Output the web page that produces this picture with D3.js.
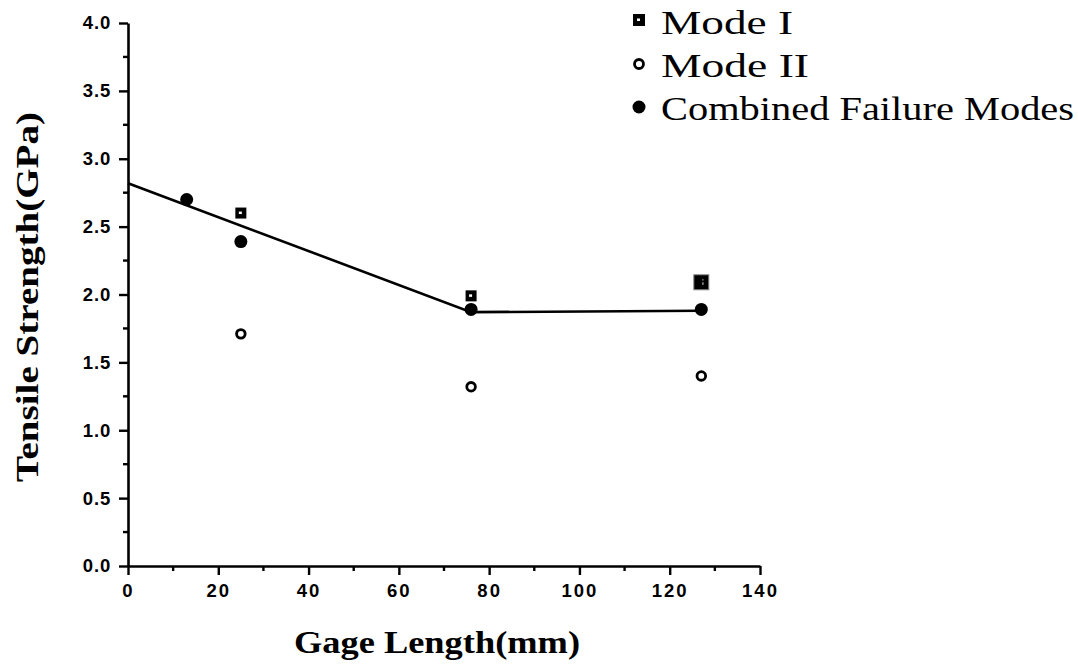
<!DOCTYPE html>
<html>
<head>
<meta charset="utf-8">
<script src="https://cdn.jsdelivr.net/npm/d3@7"></script>
<style>
  html, body { margin: 0; padding: 0; background: #fff; }
  svg { display: block; }
</style>
</head>
<body>
<svg id="chart" width="1078" height="666"></svg>
<script>
// ---- data ----
const xTicks = [0, 20, 40, 60, 80, 100, 120, 140];
const yTicks = [0.0, 0.5, 1.0, 1.5, 2.0, 2.5, 3.0, 3.5, 4.0];
const modeI_x = [25, 76, 127];
const modeI_y = [2.60, 1.99, 2.09];
const modeII_x = [25, 76, 127];
const modeII_y = [1.71, 1.32, 1.40];
const combined_x = [13, 25, 76, 127];
const combined_y = [2.70, 2.39, 1.89, 1.89];
const fit_x = [0, 76, 127];
const fit_y = [2.82, 1.87, 1.88];
const legendLabels = ["Mode I", "Mode II", "Combined Failure Modes"];

const svg = d3.select("#chart");
const x = d3.scaleLinear().domain([0, 140]).range([128, 760]);
const y = d3.scaleLinear().domain([0, 4]).range([566, 23]);

const tickFont = "'Liberation Sans', Arial, sans-serif";
const serif = "'Liberation Serif', 'DejaVu Serif', serif";

// x axis
const xAxis = d3.axisBottom(x).tickValues(xTicks).tickSize(9).tickSizeOuter(0).tickFormat(d3.format("d"));
const gx = svg.append("g").attr("transform", `translate(0,${y(0)})`).call(xAxis);
gx.select(".domain").attr("stroke-width", 2.6);
gx.selectAll(".tick line").attr("stroke-width", 2.4);
gx.selectAll(".tick text").attr("font-family", tickFont).attr("font-weight", "bold")
  .attr("font-size", 18.5).attr("letter-spacing", "2px").attr("dy", "1.05em");
// x minor ticks
const xMinor = d3.range(10, 140, 20);
svg.append("g").selectAll("line").data(xMinor).join("line")
  .attr("x1", d => x(d)).attr("x2", d => x(d))
  .attr("y1", y(0)).attr("y2", y(0) + 5)
  .attr("stroke", "#000").attr("stroke-width", 2.4);

// y axis
const yAxis = d3.axisLeft(y).tickValues(yTicks).tickSize(9).tickSizeOuter(0).tickFormat(d3.format(".1f"));
const gy = svg.append("g").attr("transform", `translate(${x(0)},0)`).call(yAxis);
gy.select(".domain").attr("stroke-width", 2.6);
gy.selectAll(".tick line").attr("stroke-width", 2.4);
gy.selectAll(".tick text").attr("font-family", tickFont).attr("font-weight", "bold")
  .attr("font-size", 18.5).attr("letter-spacing", "1px").attr("dx", "-0.25em");
const yMinor = d3.range(0.25, 4, 0.5);
svg.append("g").selectAll("line").data(yMinor).join("line")
  .attr("x1", x(0) - 5).attr("x2", x(0))
  .attr("y1", d => y(d)).attr("y2", d => y(d))
  .attr("stroke", "#000").attr("stroke-width", 2.4);

// axis titles
svg.append("text")
  .attr("x", 437).attr("y", 653)
  .attr("text-anchor", "middle")
  .attr("font-family", serif).attr("font-weight", "bold").attr("font-size", 32)
  .attr("textLength", 286).attr("lengthAdjust", "spacingAndGlyphs")
  .text("Gage Length(mm)");
svg.append("text")
  .attr("transform", `translate(38,${297}) rotate(-90)`)
  .attr("text-anchor", "middle")
  .attr("font-family", serif).attr("font-weight", "bold").attr("font-size", 32)
  .attr("textLength", 370).attr("lengthAdjust", "spacingAndGlyphs")
  .text("Tensile Strength(GPa)");

// fit line
const fit = fit_x.map((d, i) => [d, fit_y[i]]);
svg.append("path")
  .datum(fit)
  .attr("d", d3.line().x(d => x(d[0])).y(d => y(d[1])))
  .attr("fill", "none").attr("stroke", "#000").attr("stroke-width", 2.6);

// square marker drawing
function drawSquare(g, cx, cy, s, big) {
  g.append("rect").attr("x", cx - s / 2).attr("y", cy - s / 2)
    .attr("width", s).attr("height", s)
    .attr("fill", "#000")
    .attr("stroke", big ? "#888" : "none").attr("stroke-width", big ? 1 : 0);
  if (!big) {
    g.append("rect").attr("x", cx - 2).attr("y", cy - 1.5)
      .attr("width", 3).attr("height", 2.5).attr("fill", "#fff");
  } else {
    g.append("rect").attr("x", cx + 1).attr("y", cy - 3).attr("width", 1.2).attr("height", 1.2).attr("fill", "#bbb");
    g.append("rect").attr("x", cx + 1).attr("y", cy).attr("width", 1.2).attr("height", 2.5).attr("fill", "#bbb");
  }
}

const marks = svg.append("g");
modeI_x.forEach((d, i) => drawSquare(marks, x(d), y(modeI_y[i]), i === 2 ? 15 : 11, i === 2));

marks.selectAll("circle.m2").data(modeII_x.map((d, i) => [d, modeII_y[i]])).join("circle")
  .attr("class", "m2")
  .attr("cx", d => x(d[0])).attr("cy", d => y(d[1])).attr("r", 4.3)
  .attr("fill", "#fff").attr("stroke", "#000").attr("stroke-width", 2.8);

marks.selectAll("circle.cb").data(combined_x.map((d, i) => [d, combined_y[i]])).join("circle")
  .attr("class", "cb")
  .attr("cx", d => x(d[0])).attr("cy", d => y(d[1])).attr("r", 6.5)
  .attr("fill", "#000");

// legend
const lg = svg.append("g");
const lx = 639, baselines = [34, 77, 120];
drawSquare(lg, lx, baselines[0] - 14, 12, false);
lg.append("circle").attr("cx", lx).attr("cy", baselines[1] - 13).attr("r", 4.5)
  .attr("fill", "#fff").attr("stroke", "#000").attr("stroke-width", 2.8);
lg.append("circle").attr("cx", lx).attr("cy", baselines[2] - 13).attr("r", 6.5).attr("fill", "#000");
const lens = [132, 148, 413];
legendLabels.forEach((t, i) => {
  lg.append("text").attr("x", 661).attr("y", baselines[i])
    .attr("font-family", serif).attr("font-size", 34)
    .attr("textLength", lens[i]).attr("lengthAdjust", "spacingAndGlyphs")
    .text(t);
});
</script>
</body>
</html>
